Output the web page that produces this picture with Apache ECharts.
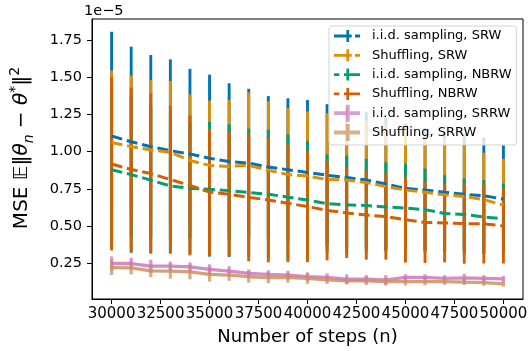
<!DOCTYPE html>
<html><head><meta charset="utf-8">
<script src="https://cdn.jsdelivr.net/npm/echarts@6/dist/echarts.min.js"></script>
<style>html,body{margin:0;padding:0;background:#fff}#c{width:532px;height:351px}</style>
</head><body><div id="c"></div>
<script>
// x positions (number of steps)
const steps = [30000,31000,32000,33000,34000,35000,36000,37000,38000,39000,40000,41000,42000,43000,44000,45000,46000,47000,48000,49000,50000];
const xTicks = [30000,32500,35000,37500,40000,42500,45000,47500,50000];
const yTicks = [0.25,0.50,0.75,1.00,1.25,1.50,1.75];

// values in units of 1e-5 ; mean and error half-width
const iidSRW_mean  = [1.106,1.067,1.034,1.007,0.985,0.956,0.934,0.923,0.897,0.879,0.860,0.842,0.826,0.809,0.782,0.753,0.742,0.727,0.714,0.703,0.681];
const iidSRW_err   = [0.702,0.641,0.617,0.615,0.573,0.563,0.527,0.501,0.478,0.481,0.488,0.478,0.474,0.461,0.448,0.437,0.418,0.403,0.403,0.392,0.363];
const shufSRW_mean = [1.062,1.034,1.012,0.996,0.941,0.908,0.901,0.908,0.875,0.846,0.836,0.813,0.809,0.793,0.765,0.742,0.727,0.710,0.698,0.677,0.640];
const shufSRW_err  = [0.485,0.480,0.471,0.481,0.445,0.437,0.450,0.492,0.465,0.448,0.436,0.447,0.431,0.417,0.415,0.408,0.393,0.380,0.342,0.316,0.312];
const iidNBRW_mean = [0.879,0.846,0.809,0.769,0.753,0.747,0.738,0.725,0.714,0.694,0.675,0.650,0.643,0.637,0.628,0.621,0.610,0.584,0.577,0.561,0.548];
const iidNBRW_err  = [0.530,0.527,0.490,0.450,0.440,0.454,0.447,0.430,0.434,0.423,0.398,0.332,0.331,0.315,0.300,0.298,0.276,0.258,0.243,0.248,0.238];
const shufNBRW_mean= [0.917,0.880,0.853,0.812,0.773,0.728,0.714,0.693,0.675,0.653,0.631,0.604,0.588,0.574,0.563,0.542,0.524,0.520,0.516,0.514,0.500];
const shufNBRW_err = [0.582,0.552,0.540,0.499,0.471,0.426,0.419,0.431,0.420,0.396,0.375,0.336,0.304,0.301,0.290,0.289,0.273,0.265,0.270,0.267,0.253];
const iidSRRW_mean = [0.247,0.247,0.229,0.229,0.224,0.207,0.196,0.181,0.174,0.169,0.158,0.154,0.141,0.141,0.137,0.154,0.154,0.147,0.150,0.147,0.143];
const iidSRRW_err  = [0.048,0.039,0.044,0.031,0.031,0.035,0.033,0.026,0.028,0.029,0.029,0.027,0.033,0.028,0.032,0.020,0.020,0.022,0.027,0.022,0.021];
const shufSRRW_mean= [0.220,0.218,0.198,0.196,0.191,0.174,0.169,0.158,0.152,0.152,0.147,0.137,0.130,0.130,0.125,0.125,0.125,0.125,0.121,0.118,0.110];
const shufSRRW_err = [0.051,0.044,0.044,0.051,0.050,0.049,0.039,0.040,0.038,0.034,0.037,0.027,0.022,0.027,0.026,0.026,0.025,0.022,0.019,0.021,0.018];

const names = ['i.i.d. sampling, SRW','Shuffling, SRW','i.i.d. sampling, NBRW','Shuffling, NBRW','i.i.d. sampling, SRRW','Shuffling, SRRW'];
const colors = ['#0173b2','#de8f05','#029e73','#d55e00','#cc78bc','#ca9161'];
const means = [iidSRW_mean, shufSRW_mean, iidNBRW_mean, shufNBRW_mean, iidSRRW_mean, shufSRRW_mean];
const errs  = [iidSRW_err, shufSRW_err, iidNBRW_err, shufNBRW_err, iidSRRW_err, shufSRRW_err];
const dashed = [true,true,true,true,false,false];

const FONT = 'DejaVu Sans';
const iconSRW  = 'path://M0,0 M26,17 M0,7.1 L17.7,7.1 L17.7,9.9 L0,9.9 Z M21,7.1 L26,7.1 L26,9.9 L21,9.9 Z M12.4,2.5 L15.1,2.5 L15.1,14.5 L12.4,14.5 Z';
const iconNBRW = 'path://M0,0 M26,17 M0,7.1 L5.3,7.1 L5.3,9.9 L0,9.9 Z M10,7.1 L26,7.1 L26,9.9 L10,9.9 Z M12.4,2.5 L15.1,2.5 L15.1,14.5 L12.4,14.5 Z';
const iconSRRW = 'path://M0,0 M26,17 M0,6.6 L26,6.6 L26,10.4 L0,10.4 Z M11.9,0 L15.7,0 L15.7,17 L11.9,17 Z';
const icons = [iconSRW, iconSRW, iconNBRW, iconNBRW, iconSRRW, iconSRRW];

const series = [];
// error bars first (drawn below all lines)
for (let s = 0; s < 6; s++) {
  const srrw = !dashed[s];
  series.push({
    name: names[s], type: 'custom', z: 1 + s * 0.01,
    data: steps.map((x, i) => [x, means[s][i], errs[s][i]]),
    encode: { x: 0, y: 1 },
    itemStyle: { color: colors[s] },
    renderItem: function (params, api) {
      const x = api.value(0), m = api.value(1), h = api.value(2);
      const p1 = api.coord([x, m + h]);
      const p2 = api.coord([x, m - h]);
      return { type: 'line', shape: { x1: p1[0], y1: p1[1], x2: p2[0], y2: p2[1] },
        style: { stroke: colors[s], lineWidth: srrw ? 3.3 : 2.9, opacity: srrw ? 0.75 : 1 } };
    }
  });
}
for (let s = 0; s < 6; s++) {
  series.push({
    name: names[s], type: 'line', z: 5 + s * 0.01,
    data: steps.map((x, i) => [x, means[s][i]]),
    showSymbol: false, symbol: 'none', silent: true,
    itemStyle: { color: colors[s] },
    lineStyle: dashed[s] ? { color: colors[s], width: 3, type: [11, 4.8] }
                         : { color: colors[s], width: 3.3, opacity: 0.85 }
  });
}

const option = {
  animation: false,
  backgroundColor: '#fff',
  textStyle: { fontFamily: FONT },
  title: { text: '1e\u22125', left: 84, top: 4, padding: 0,
    textStyle: { fontFamily: FONT, fontSize: 14.5, fontWeight: 'normal', color: '#000' } },
  grid: { left: 85, top: 19, width: 438, height: 285, show: true, borderColor: '#000', borderWidth: 1, backgroundColor: 'transparent' },
  legend: {
    orient: 'vertical', left: 329, top: 26, padding: [1.5, 5, 4, 5],
    itemWidth: 26, itemHeight: 17, itemGap: 2.3,
    backgroundColor: 'rgba(255,255,255,0.8)', borderColor: '#d3d3d3', borderWidth: 1, borderRadius: 3,
    textStyle: { fontFamily: FONT, fontSize: 13, color: '#000', padding: [0, 0, 0, 7] },
    itemStyle: { borderWidth: 0 },
    selectedMode: false,
    data: names.map((n, i) => ({ name: n, icon: icons[i],
      itemStyle: { color: colors[i], borderWidth: 0, opacity: dashed[i] ? 1 : 0.72 } }))
  },
  xAxis: {
    type: 'value', min: 29000, max: 51000,
    name: 'Number of steps (n)', nameLocation: 'middle', nameGap: 29,
    nameTextStyle: { fontFamily: FONT, fontSize: 18, color: '#000' },
    axisLine: { show: true, lineStyle: { color: '#000', width: 1 } },
    axisTick: { show: true, length: 5, lineStyle: { color: '#000', width: 1 }, customValues: xTicks },
    axisLabel: { show: true, margin: 8, color: '#000', fontFamily: FONT, fontSize: 15,
      customValues: xTicks, formatter: v => String(v) },
    splitLine: { show: false }
  },
  yAxis: {
    type: 'value', min: 0.008, max: 1.894,
    name: '{n|MSE }{e|\uD835\uDD3C}{n|\u2016}{i|\u03B8}{sub|n}{n| \u2212 }{i|\u03B8}{sup|*}{n|\u2016}{sup|2}',
    nameLocation: 'middle', nameGap: 56, nameRotate: 90,
    nameTextStyle: {
      fontFamily: FONT, fontSize: 20, color: '#000', padding: [0, 0, 0, 22],
      rich: {
        n: { fontFamily: FONT, fontSize: 20, color: '#000', lineHeight: 28 },
        e: { fontFamily: FONT, fontSize: 20, color: '#000', lineHeight: 28 },
        i: { fontFamily: FONT, fontSize: 20, fontStyle: 'italic', color: '#000', lineHeight: 28 },
        sub: { fontFamily: FONT, fontSize: 14, fontStyle: 'italic', color: '#000', verticalAlign: 'bottom', lineHeight: 16 },
        sup: { fontFamily: FONT, fontSize: 14, color: '#000', verticalAlign: 'top', lineHeight: 16 }
      }
    },
    axisLine: { show: true, lineStyle: { color: '#000', width: 1 } },
    axisTick: { show: true, length: 5, lineStyle: { color: '#000', width: 1 }, customValues: yTicks },
    axisLabel: { show: true, margin: 10, color: '#000', fontFamily: FONT, fontSize: 14.5,
      customValues: yTicks, formatter: v => v.toFixed(2) },
    splitLine: { show: false }
  },
  series: series
};
const chart = echarts.init(document.getElementById('c'));
chart.setOption(option);
</script>
</body></html>
